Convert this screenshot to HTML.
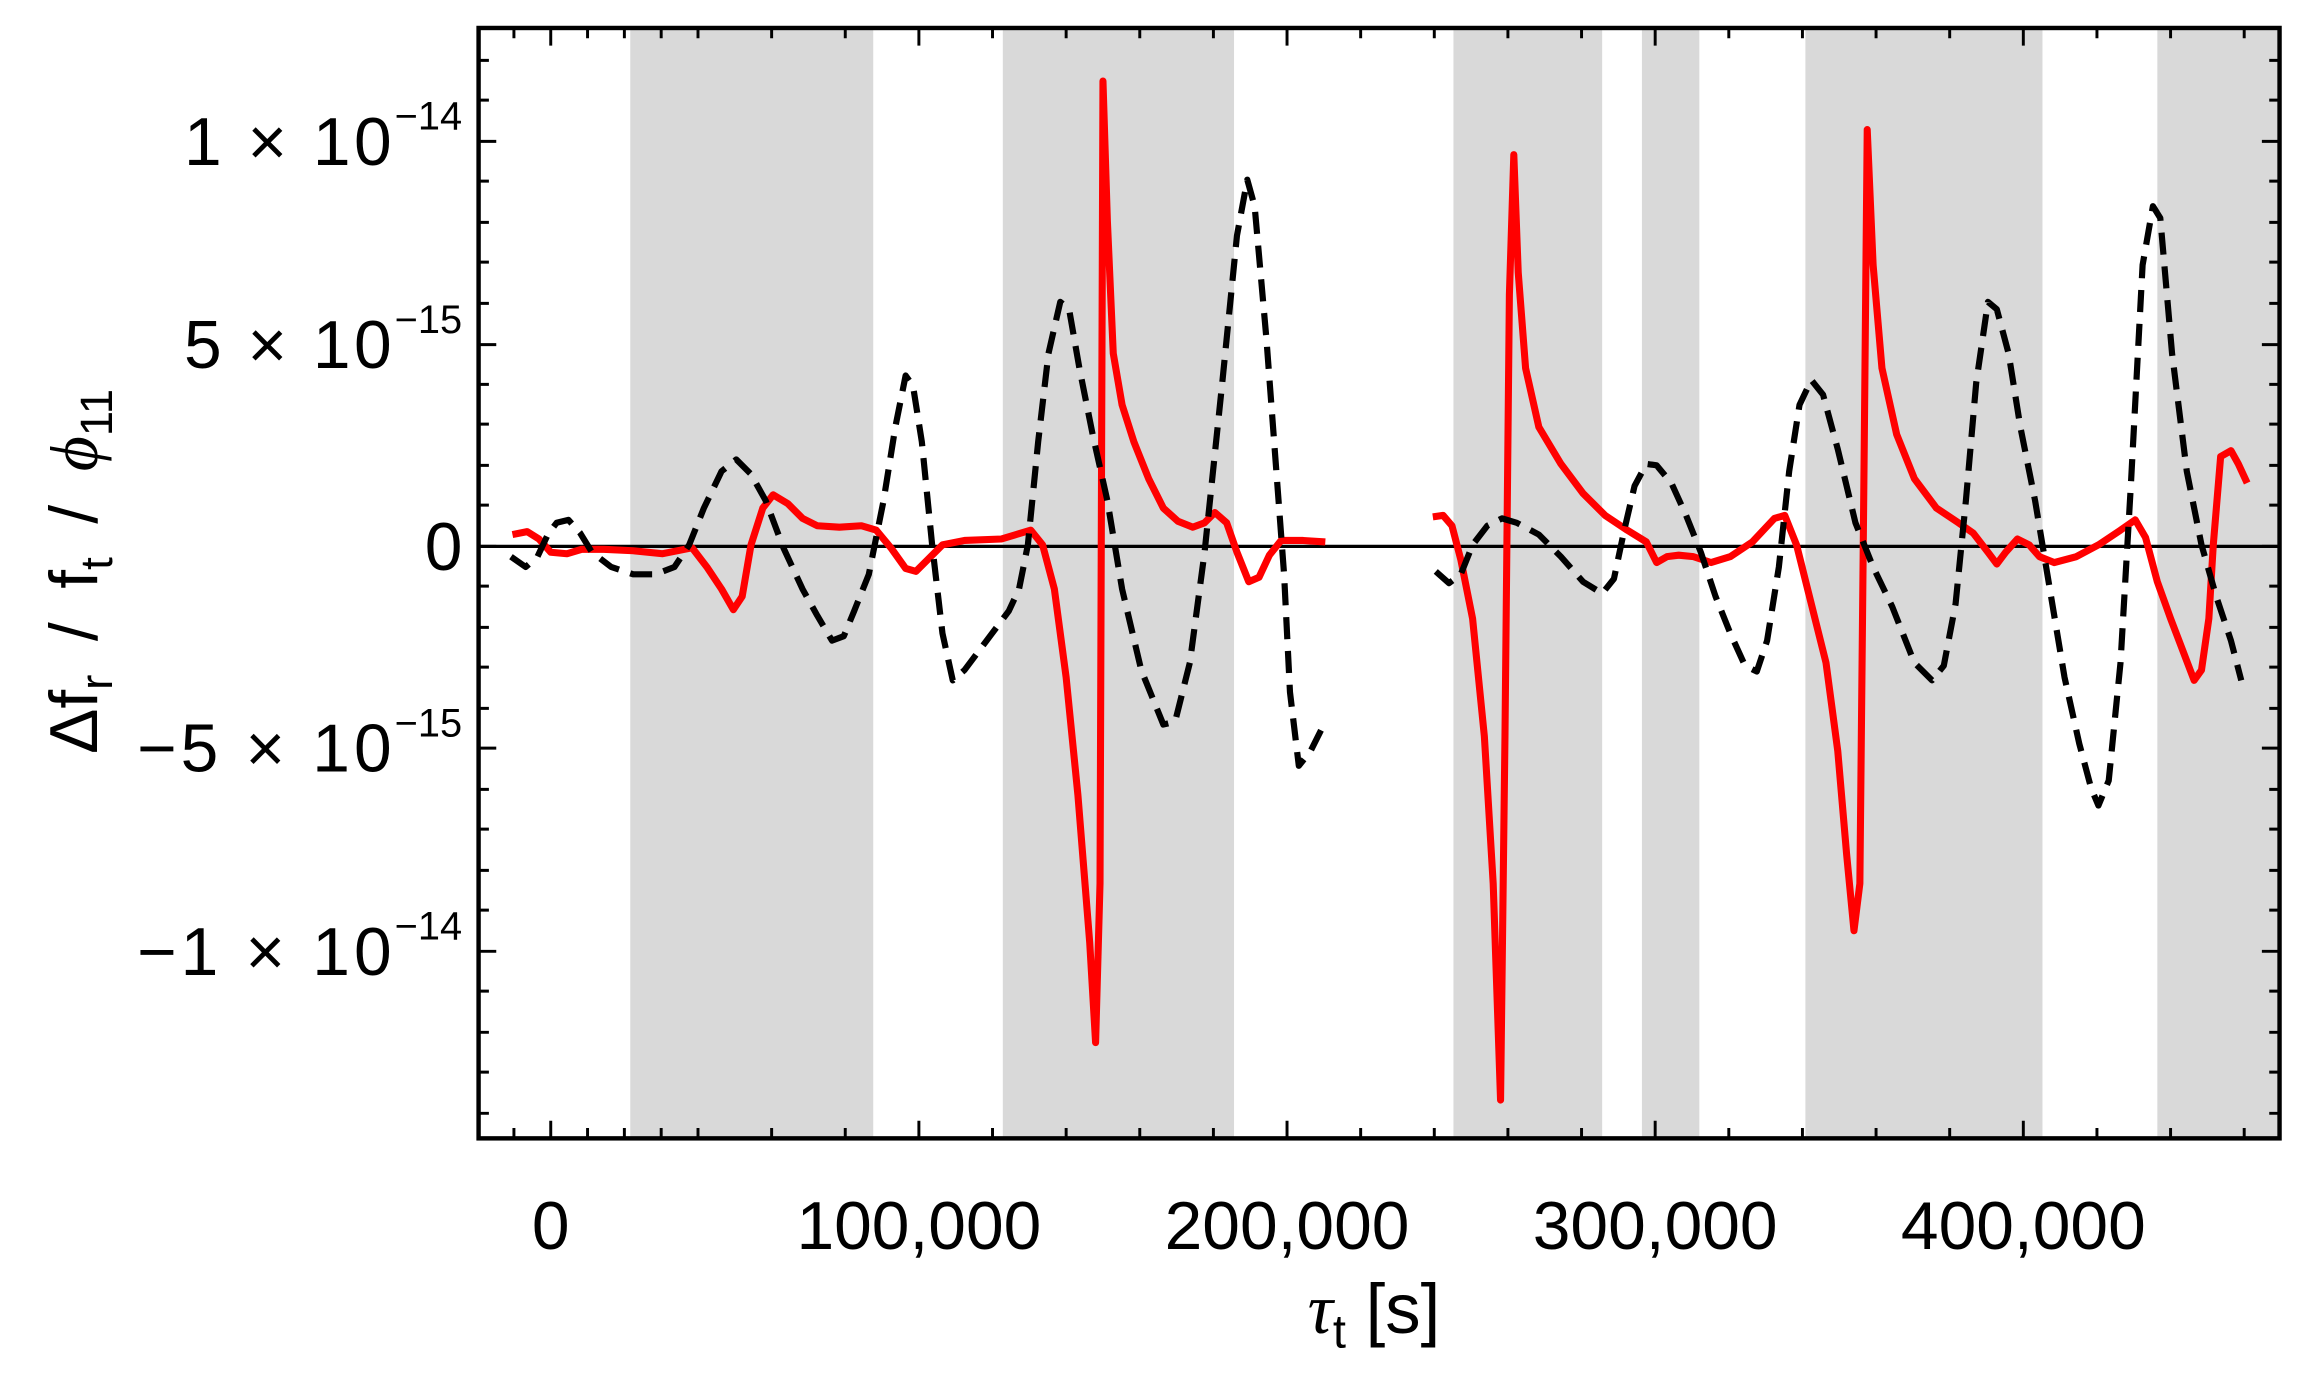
<!DOCTYPE html>
<html><head><meta charset="utf-8"><style>
html,body{margin:0;padding:0;background:#fff;width:2309px;height:1379px;overflow:hidden}
svg{display:block}
text{font-family:"Liberation Sans",sans-serif;fill:#000}
</style></head><body>
<svg width="2309" height="1379" viewBox="0 0 1568 936.4" preserveAspectRatio="none" xmlns="http://www.w3.org/2000/svg">
<g fill="#d9d9d9">
<rect x="428" y="19" width="165" height="754"/>
<rect x="681" y="19" width="157" height="754"/>
<rect x="987" y="19" width="101" height="754"/>
<rect x="1115" y="19" width="39" height="754"/>
<rect x="1226" y="19" width="161" height="754"/>
<rect x="1465" y="19" width="83" height="754"/>
</g>
<line x1="325" y1="371" x2="1548" y2="371" stroke="#000" stroke-width="2.2"/>
<g fill="none" stroke-linejoin="round">
<polyline stroke="#f00" stroke-width="4.8" points="348,363 358,361 366,366 374,375 385,376 395,373 410,373 430,374 450,376 470,372 480,385 490,400 498,414 504,405 510,370 518,345 525,336 535,342 545,352 555,357 570,358 585,357 595,360 605,372 615,386 622,388 630,380 640,370 655,367 680,366 700,360 708,370 716,400 724,460 732,540 740,640 744,708 747,600 749,55 752,150 756,240 762,275 770,300 780,325 790,345 800,354 810,358 818,355 825,348 833,355 840,375 848,395 855,392 862,377 870,367 885,367 900,368"/>
<polyline stroke="#f00" stroke-width="4.8" points="973,351 980,350 986,357 992,380 1000,420 1008,500 1014,600 1019,747 1022,500 1025,200 1028,105 1031,185 1036,250 1045,290 1060,315 1075,335 1090,350 1105,360 1118,368 1125,382 1132,378 1140,377 1150,378 1162,382 1175,378 1190,368 1205,352 1212,350 1220,370 1230,410 1240,450 1248,510 1254,580 1259,632 1263,600 1266,300 1268,88 1272,180 1278,250 1288,295 1300,325 1315,345 1330,355 1340,362 1350,375 1356,383 1362,375 1370,366 1378,370 1385,378 1395,382 1410,378 1425,370 1440,360 1450,353 1457,365 1465,395 1474,420 1490,462 1495,455 1500,420 1503,370 1508,310 1515,306 1520,315 1526,328"/>
<polyline stroke="#000" stroke-width="4.2" stroke-dasharray="15,8" points="347,378 357,385 365,378 372,363 378,355 386,353 394,362 402,375 415,385 430,390 445,390 458,385 468,370 478,345 490,320 500,312 510,322 520,340 532,372 545,400 555,418 565,435 573,432 580,415 590,390 600,340 608,290 615,255 620,262 626,300 633,370 640,430 647,462 655,455 670,435 685,415 692,400 698,370 705,300 712,240 720,205 726,210 733,250 742,295 752,340 762,400 775,455 790,492 798,490 808,450 818,375 830,260 840,160 847,122 852,140 860,230 866,310 872,390 876,470 882,520 890,510 900,490"/>
<polyline stroke="#000" stroke-width="4.2" stroke-dasharray="15,8" points="975,388 984,396 992,390 1000,370 1010,357 1020,352 1030,355 1045,363 1060,378 1075,395 1088,403 1096,393 1103,360 1110,330 1118,315 1125,316 1135,328 1145,350 1155,375 1165,405 1175,430 1185,452 1193,456 1200,435 1208,385 1215,320 1222,275 1230,258 1238,268 1248,305 1260,355 1272,385 1285,412 1300,450 1312,462 1320,452 1328,410 1335,340 1342,260 1350,205 1356,210 1364,240 1372,290 1382,340 1392,400 1402,460 1412,505 1420,535 1425,547 1432,530 1440,450 1447,330 1455,180 1462,140 1467,148 1475,240 1485,320 1495,370 1505,405 1515,435 1522,462"/>
</g>
<g stroke="#000" stroke-width="2">
<path d="M374,773v-12M374,19v12M624,773v-12M624,19v12M874,773v-12M874,19v12M1124,773v-12M1124,19v12M1374,773v-12M1374,19v12"/>
<path d="M349,773v-7M349,19v7M399,773v-7M399,19v7M424,773v-7M424,19v7M449,773v-7M449,19v7M474,773v-7M474,19v7M524,773v-7M524,19v7M574,773v-7M574,19v7M674,773v-7M674,19v7M724,773v-7M724,19v7M774,773v-7M774,19v7M824,773v-7M824,19v7M924,773v-7M924,19v7M974,773v-7M974,19v7M1024,773v-7M1024,19v7M1074,773v-7M1074,19v7M1174,773v-7M1174,19v7M1224,773v-7M1224,19v7M1274,773v-7M1274,19v7M1324,773v-7M1324,19v7M1424,773v-7M1424,19v7M1474,773v-7M1474,19v7M1524,773v-7M1524,19v7"/>
<path d="M325,96h12M1548,96h-12M325,234h12M1548,234h-12M325,371h12M1548,371h-12M325,508h12M1548,508h-12M325,646h12M1548,646h-12"/>
<path d="M325,41h7M1548,41h-7M325,68h7M1548,68h-7M325,123h7M1548,123h-7M325,151h7M1548,151h-7M325,178h7M1548,178h-7M325,206h7M1548,206h-7M325,261h7M1548,261h-7M325,288h7M1548,288h-7M325,316h7M1548,316h-7M325,343h7M1548,343h-7M325,398h7M1548,398h-7M325,426h7M1548,426h-7M325,453h7M1548,453h-7M325,481h7M1548,481h-7M325,536h7M1548,536h-7M325,563h7M1548,563h-7M325,591h7M1548,591h-7M325,618h7M1548,618h-7M325,673h7M1548,673h-7M325,701h7M1548,701h-7M325,728h7M1548,728h-7M325,756h7M1548,756h-7"/>
</g>
<rect x="325" y="19" width="1223" height="754" fill="none" stroke="#000" stroke-width="3"/>
<g font-size="46" text-anchor="middle">
<text x="374" y="848">0</text>
<text x="624" y="848">100,000</text>
<text x="874" y="848">200,000</text>
<text x="1124" y="848">300,000</text>
<text x="1374" y="848">400,000</text>
</g>
<g font-size="46">
<text x="125" y="112" textLength="141" lengthAdjust="spacing">1 × 10</text>
<text x="125" y="250" textLength="141" lengthAdjust="spacing">5 × 10</text>
<text x="314" y="387" text-anchor="end">0</text>
<text x="93" y="524" textLength="173" lengthAdjust="spacing">−5 × 10</text>
<text x="93" y="662" textLength="173" lengthAdjust="spacing">−1 × 10</text>
</g>
<g font-size="27">
<text x="268" y="88">−14</text>
<text x="268" y="226">−15</text>
<text x="268" y="500">−15</text>
<text x="268" y="638">−14</text>
</g>
<text x="933" y="905" font-size="48" text-anchor="middle"><tspan font-family="Liberation Serif" font-style="italic">τ</tspan><tspan font-size="32" dy="10">t</tspan><tspan dy="-10"> [s]</tspan></text>
<text transform="translate(66,388) rotate(-90)" font-size="46" text-anchor="middle" word-spacing="10">Δf<tspan font-size="31" dy="10">r</tspan><tspan dy="-10"> / f</tspan><tspan font-size="31" dy="10">t</tspan><tspan dy="-10"> / </tspan><tspan font-family="Liberation Serif" font-style="italic">ϕ</tspan><tspan font-size="31" dy="10">11</tspan></text>
</svg>
</body></html>
